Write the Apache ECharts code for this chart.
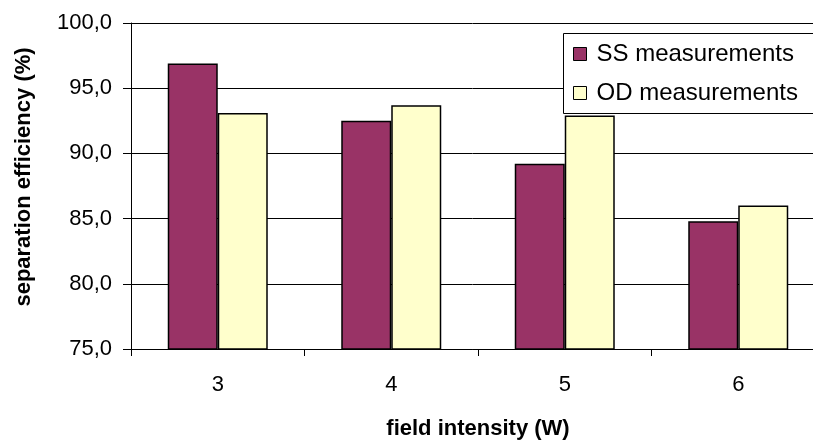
<!DOCTYPE html>
<html>
<head>
<meta charset="utf-8">
<script src="https://cdn.jsdelivr.net/npm/echarts@6/dist/echarts.min.js"></script>
<style>
html,body{margin:0;padding:0;background:#fff;}
#c{width:813px;height:444px;}
</style>
</head>
<body>
<div id="c"></div>
<script>
const categories = ['3', '4', '5', '6'];
const ssValues = [96.9, 92.5, 89.2, 84.8];
const odValues = [93.1, 93.7, 92.9, 86.0];
const seriesNames = ['SS measurements', 'OD measurements'];
const yTitle = 'separation efficiency (%)';
const xTitle = 'field intensity (W)';

const FONT = 'Liberation Sans, Arial, sans-serif';
const chart = echarts.init(document.getElementById('c'), null, {renderer: 'canvas'});
chart.setOption({
  animation: false,
  backgroundColor: '#fff',
  textStyle: {fontFamily: FONT, color: '#000'},
  grid: {left: 131, top: 23, bottom: 95, width: 694, containLabel: false, outerBoundsMode: 'none'},
  graphic: [{
    type: 'rect', z: 3, silent: true,
    shape: {x: 563.5, y: 33.5, width: 300, height: 80},
    style: {fill: '#fff', stroke: '#000', lineWidth: 1}
  }],
  legend: {
    orient: 'vertical',
    left: 563, top: 33,
    z: 4,
    padding: [9, 10, 8, 10],
    itemGap: 15,
    itemWidth: 13, itemHeight: 13,
    icon: 'rect',
    backgroundColor: 'transparent',
    borderWidth: 0,
    itemStyle: {borderColor: '#000', borderWidth: 1},
    textStyle: {fontFamily: FONT, fontSize: 24, color: '#000', padding: [0, 0, 0, 5]},
    data: seriesNames
  },
  xAxis: {
    type: 'category',
    data: categories,
    name: xTitle,
    nameLocation: 'middle',
    nameGap: 69,
    nameTextStyle: {fontFamily: FONT, fontSize: 22, fontWeight: 'bold', color: '#000'},
    axisLine: {lineStyle: {color: '#000', width: 1}},
    axisTick: {show: true, length: 7, lineStyle: {color: '#000'}},
    axisLabel: {fontFamily: FONT, fontSize: 22, color: '#000', margin: 25},
    splitLine: {show: false}
  },
  yAxis: {
    type: 'value',
    min: 75, max: 100, interval: 5,
    name: yTitle,
    nameLocation: 'middle',
    nameGap: 96,
    nameTextStyle: {fontFamily: FONT, fontSize: 22, fontWeight: 'bold', color: '#000', padding: [0, 0, 0, 18]},
    axisLine: {show: true, lineStyle: {color: '#000', width: 1}},
    axisTick: {show: true, length: 8, lineStyle: {color: '#000'}},
    axisLabel: {
      fontFamily: FONT, fontSize: 22, color: '#000', margin: 19,
      formatter: v => v.toFixed(1).replace('.', ',')
    },
    splitLine: {show: true, lineStyle: {color: '#000', width: 1}}
  },
  series: [
    {
      name: seriesNames[0], type: 'bar', data: ssValues,
      barWidth: 50, barGap: '0%',
      itemStyle: {color: '#993366', borderColor: '#000', borderWidth: 1.5}
    },
    {
      name: seriesNames[1], type: 'bar', data: odValues,
      barWidth: 50, barGap: '0%',
      itemStyle: {color: '#FFFFCC', borderColor: '#000', borderWidth: 1.5}
    }
  ]
});
</script>
</body>
</html>
